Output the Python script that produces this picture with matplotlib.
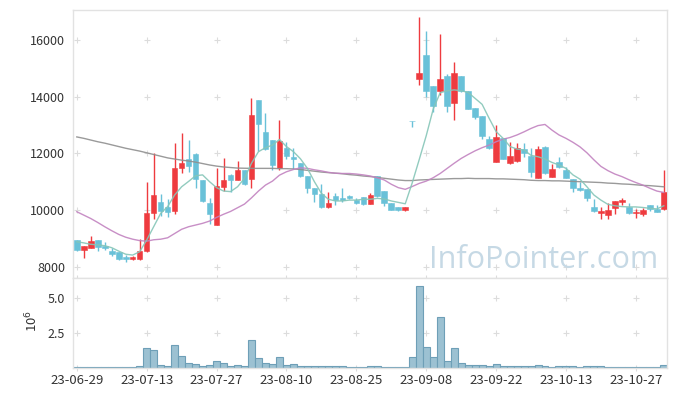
import numpy as np
import matplotlib
matplotlib.use("Agg")
import matplotlib.pyplot as plt

plt.rcParams["font.family"] = ["Noto Sans CJK KR", "DejaVu Sans"]

# ---- data ----
tick_labels = ["23-06-29", "23-07-13", "23-07-27", "23-08-10", "23-08-25",
               "23-09-08", "23-09-22", "23-10-13", "23-10-27"]

opens = [8930, 8590, 8670, 8930, 8740, 8560, 8520, 8340, 8270, 8270,
         8560, 9900, 10270, 10090, 9980, 11470, 11800, 11980, 11060, 10250,
         9470, 10820, 11240, 11060, 11410, 11090, 13880, 12770, 12470, 11490,
         12180, 11870, 11650, 11200, 10790, 10550, 10120, 10490, 10440, 10510,
         10350, 10460, 10220, 11200, 10670, 10240, 10110, 10010, 13150, 14620,
         15470, 14380, 14200, 14740, 13790, 14740, 14200, 13590, 13320, 12490,
         11710, 12550, 11670, 11730, 12150, 11920, 11140, 12240, 11180, 11710,
         11410, 11090, 10790, 10730, 10110, 9910, 9820, 10060, 10290, 10120,
         9880, 9850, 10170, 10040, 10040]
highs = [8950, 8730, 9080, 8950, 8860, 8650, 8520, 8410, 8380, 8960,
         10980, 12000, 10550, 10380, 12350, 12720, 12480, 12000, 11060, 10410,
         11470, 11820, 11260, 11730, 11410, 13940, 13900, 13410, 12470, 13180,
         12410, 12180, 11650, 11200, 10790, 10910, 10650, 10590, 10770, 10530,
         10440, 10460, 10600, 11200, 10670, 10240, 10110, 10110, 13150, 16820,
         16320, 14380, 16200, 14790, 15210, 14740, 14200, 13590, 13320, 12620,
         13000, 12550, 12390, 12350, 12350, 12180, 12270, 12270, 11610, 11880,
         11530, 11090, 11000, 10730, 10380, 10110, 10240, 10320, 10440, 10240,
         10040, 10080, 10170, 10170, 11420]
lows = [8570, 8290, 8650, 8560, 8590, 8390, 8250, 8180, 8250, 8250,
        8530, 9670, 9800, 9740, 9860, 11290, 11350, 10790, 10300, 9490,
        9470, 10670, 10650, 11060, 10880, 10790, 12090, 12120, 11430, 11410,
        11800, 11450, 11180, 10590, 10290, 10080, 10080, 10180, 10290, 10390,
        10220, 10180, 10200, 10470, 10130, 10000, 9960, 9960, 12940, 14410,
        14000, 13450, 14060, 13470, 13180, 14180, 13560, 13210, 12490, 12150,
        11710, 11800, 11610, 11710, 11880, 11150, 11120, 11260, 11150, 11490,
        11120, 10650, 10680, 10320, 9940, 9670, 9670, 9850, 10180, 9850,
        9710, 9800, 9970, 9940, 10010]
closes = [8590, 8730, 8900, 8710, 8650, 8460, 8270, 8270, 8340, 8540,
          9880, 10530, 9980, 9940, 11470, 11660, 11560, 11080, 10330, 9850,
          10850, 11060, 11060, 11410, 10920, 13350, 13040, 12150, 11590, 12440,
          11920, 11800, 11210, 10770, 10550, 10120, 10240, 10350, 10350, 10410,
          10260, 10200, 10530, 10510, 10240, 10000, 10010, 10110, 13140, 14850,
          14200, 13680, 14620, 13680, 14820, 14200, 13560, 13290, 12610, 12180,
          12580, 11800, 11910, 12180, 12000, 11350, 12150, 11290, 11450, 11530,
          11140, 10770, 10710, 10410, 9980, 9980, 10000, 10320, 10370, 9880,
          9920, 10000, 10040, 9940, 10640]
# volume in millions
volumes = [0.02, 0.02, 0.02, 0.02, 0.02, 0.02, 0.02, 0.02, 0.02, 0.12,
           1.38, 1.24, 0.19, 0.12, 1.62, 0.83, 0.33, 0.26, 0.12, 0.19,
           0.48, 0.33, 0.12, 0.19, 0.12, 1.98, 0.69, 0.33, 0.26, 0.76,
           0.19, 0.24, 0.12, 0.12, 0.12, 0.12, 0.12, 0.12, 0.12, 0.02,
           0.02, 0.02, 0.12, 0.12, 0.02, 0.02, 0.02, 0.02, 0.74, 5.83,
           1.48, 0.76, 3.62, 0.45, 1.40, 0.31, 0.19, 0.19, 0.19, 0.12,
           0.24, 0.12, 0.12, 0.12, 0.12, 0.12, 0.19, 0.12, 0.02, 0.12,
           0.12, 0.12, 0.02, 0.12, 0.12, 0.12, 0.02, 0.02, 0.02, 0.02,
           0.02, 0.02, 0.02, 0.02, 0.19]
ma_short = [8880, 8840, 8790, 8770, 8740, 8670, 8550, 8440, 8410, 8530,
            8940, 9410, 9880, 10120, 10530, 10820, 11010, 11210, 11240, 11000,
            10790, 10670, 10650, 10820, 11120, 11650, 12060, 12200, 12290, 12490,
            12240, 12060, 11810, 11470, 11000, 10590, 10380, 10320, 10320, 10350,
            10350, 10380, 10380, 10410, 10390, 10320, 10270, 10220, 10960, 11780,
            12620, 13560, 14140, 14210, 14240, 14210, 14150, 13940, 13730, 13240,
            12770, 12530, 12240, 12150, 12120, 11930, 11880, 11800, 11680, 11590,
            11470, 11240, 11090, 10820, 10530, 10350, 10200, 10150, 10120, 10110,
            10110, 10090, 10060, 10040, 10150]
ma_mid = [9940, 9820, 9700, 9560, 9410, 9270, 9140, 9040, 8970, 8920,
          8900, 8950, 8970, 9020, 9170, 9320, 9410, 9470, 9530, 9610,
          9740, 9850, 9950, 10080, 10210, 10430, 10670, 10880, 11020, 11230,
          11350, 11430, 11490, 11470, 11420, 11380, 11330, 11300, 11290, 11290,
          11270, 11240, 11200, 11140, 11060, 10910, 10790, 10730, 10830, 10940,
          11020, 11140, 11290, 11470, 11650, 11820, 11960, 12090, 12200, 12290,
          12410, 12500, 12560, 12650, 12760, 12880, 12980, 13020, 12820, 12650,
          12530, 12390, 12230, 12020, 11770, 11540, 11390, 11270, 11180, 11070,
          10970, 10880, 10770, 10670, 10620]
ma_long = [12580, 12530, 12470, 12410, 12360, 12300, 12240, 12180, 12130, 12080,
           12020, 11960, 11900, 11840, 11800, 11760, 11730, 11690, 11640, 11590,
           11550, 11520, 11500, 11480, 11475, 11470, 11470, 11470, 11470, 11460,
           11460, 11450, 11430, 11400, 11370, 11340, 11320, 11300, 11280, 11250,
           11230, 11200, 11180, 11150, 11120, 11090, 11060, 11040, 11040, 11060,
           11070, 11080, 11090, 11100, 11110, 11110, 11120, 11110, 11110, 11110,
           11100, 11100, 11090, 11080, 11070, 11050, 11040, 11040, 11030, 11030,
           11020, 11010, 11000, 10990, 10980, 10970, 10950, 10940, 10920, 10910,
           10890, 10870, 10860, 10840, 10820]

UP, DOWN = "#ee3b3f", "#69c1d8"
GRID = "#dcdcdc"

x = np.arange(len(closes))
o, h, l, c = map(np.array, (opens, highs, lows, closes))
cols = [UP if cc > oo else DOWN for oo, cc in zip(o, c)]

fig = plt.figure(figsize=(6.77, 3.96), dpi=100)
ax = fig.add_axes([0.10827, 0.29722, 0.87740, 0.67753])
axv = fig.add_axes([0.10827, 0.07146, 0.87740, 0.22576], sharex=ax)

# candles
ax.vlines(x, l, h, colors=cols, lw=1.0, zorder=2)
ax.bar(x, np.abs(c - o), bottom=np.minimum(o, c), width=0.8, color=cols,
       edgecolor=cols, lw=0.4, zorder=3)

# moving averages
ax.plot(x, ma_long, color="#8f8f8f", lw=1.0, alpha=0.9, zorder=4)
ax.plot(x, ma_mid, color="#c283c0", lw=1.0, alpha=0.9, zorder=4)
ax.plot(x, ma_short, color="#86c6b8", lw=1.0, alpha=0.9, zorder=4)

# volume
axv.bar(x, volumes, width=1.0, color="#9cc1d2", edgecolor="#6e9fb7", lw=0.8, zorder=2)

ax.set_xlim(-0.5, 84.5)
ax.set_ylim(7590, 17060)
axv.set_ylim(0, 6.39)

xt = list(range(0, len(closes), 10))
yt = [8000, 10000, 12000, 14000, 16000]
vt = [2.5, 5.0]
ax.set_yticks(yt)
ax.set_yticklabels([str(v) for v in yt])
axv.set_yticks(vt)
axv.set_yticklabels(["2.5", "5.0"])
axv.set_xticks(xt)
axv.set_xticklabels(tick_labels)
plt.setp(ax.get_xticklabels(), visible=False)

# "+" grid marks
gx, gy = np.meshgrid(xt, yt)
ax.scatter(gx.ravel(), gy.ravel(), marker="+", s=22, color=GRID, lw=0.8, zorder=0)
gx, gy = np.meshgrid(xt, vt)
axv.scatter(gx.ravel(), gy.ravel(), marker="+", s=22, color=GRID, lw=0.8, zorder=0)

for a in (ax, axv):
    for s in a.spines.values():
        s.set_color("#e2e2e2")
        s.set_linewidth(1.0)
    a.tick_params(axis="y", length=0, labelsize=9, colors="#333333", pad=6)
    a.tick_params(axis="x", direction="inout", length=5, color=GRID,
                  labelsize=9.5, labelcolor="#333333", pad=2)

fig.text(32 / 677, 1 - 321 / 396, "10$^6$", rotation=90, ha="center",
         va="center", fontsize=9.5, color="#333333")

ax.text(0.985, 0.038, "InfoPointer.com", transform=ax.transAxes, ha="right",
        va="baseline", fontsize=22, family="Open Sans",
        color="#c6d9e5", zorder=1)

fig.savefig("out.png", dpi=100)
